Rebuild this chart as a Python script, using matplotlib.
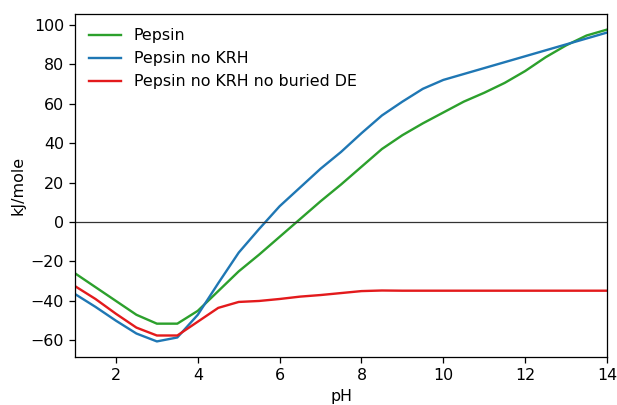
import matplotlib
matplotlib.use("Agg")
import matplotlib.pyplot as plt
import numpy as np

ph = np.arange(1, 14.5, 0.5)

pepsin = [-26, -33, -40, -47, -51.5, -51.5, -45, -35, -25, -16.5, -7.5, 1.5,
          10.5, 19, 28, 37, 44, 50, 55.5, 61, 65.5, 70.5, 76.5, 83.5, 89.5, 94.5, 97.5]
pepsin_no_krh = [-36.5, -43, -50, -56.5, -60.5, -58.5, -47, -31, -15.5, -3.5, 8, 17.5,
                 27, 35.5, 45, 54, 61, 67.5, 72, 75, 78, 81, 84, 87, 90, 93, 96]
pepsin_no_krh_de = [-32.5, -39, -46.5, -53.5, -57.5, -57.5, -50.5, -43.5, -40.5, -40, -39, -37.8,
                    -37, -36, -35, -34.7, -34.8, -34.8, -34.8, -34.8, -34.8, -34.8, -34.8, -34.8,
                    -34.8, -34.8, -34.8]

# reference looks like a default mpl figure blown up ~1.14x
s = 1.14
plt.rcParams['font.size'] = 10 * s
plt.rcParams['axes.linewidth'] = 0.8 * s
for a in ('xtick', 'ytick'):
    plt.rcParams[a + '.major.size'] = 3.5 * s
    plt.rcParams[a + '.major.width'] = 0.8 * s
    plt.rcParams[a + '.major.pad'] = 3.5 * s

fig = plt.figure(figsize=(6.17, 4.05), dpi=100)
ax = fig.add_axes([0.1216, 0.1185, 0.9838 - 0.1216, 0.9654 - 0.1185])

ax.plot(ph, pepsin, color='#2ca02c', lw=1.5 * s, label='Pepsin')
ax.plot(ph, pepsin_no_krh, color='#1f77b4', lw=1.5 * s, label='Pepsin no KRH')
ax.plot(ph, pepsin_no_krh_de, color='#e31a1c', lw=1.5 * s, label='Pepsin no KRH no buried DE')
ax.axhline(0, color='#333333', lw=0.9)

ax.set_xlim(1, 14)
ax.set_xticks([2, 4, 6, 8, 10, 12, 14])
ax.set_xlabel('pH', labelpad=4)
ax.set_ylabel('kJ/mole', labelpad=4)
ax.legend(loc='upper left', frameon=False)

fig.savefig('out.png', dpi=100)
